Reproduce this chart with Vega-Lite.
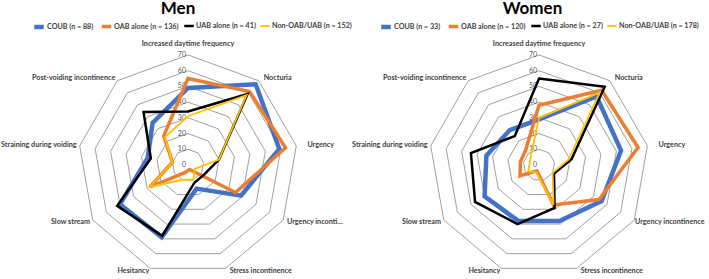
{
  "$schema": "https://vega.github.io/schema/vega-lite/v6.json",
  "padding": 0,
  "spacing": 0,
  "bounds": "flush",
  "background": "white",
  "config": {"view": {"stroke": null}, "font": "Lato", "concat": {"spacing": 0}},
  "datasets": {
    "rings": [
      {"ring": 10, "k": [0,1,2,3,4,5,6,7,8]},
      {"ring": 20, "k": [0,1,2,3,4,5,6,7,8]},
      {"ring": 30, "k": [0,1,2,3,4,5,6,7,8]},
      {"ring": 40, "k": [0,1,2,3,4,5,6,7,8]},
      {"ring": 50, "k": [0,1,2,3,4,5,6,7,8]},
      {"ring": 60, "k": [0,1,2,3,4,5,6,7,8]},
      {"ring": 70, "k": [0,1,2,3,4,5,6,7,8]}
    ],
    "ticks": [{"v": 0},{"v": 10},{"v": 20},{"v": 30},{"v": 40},{"v": 50},{"v": 60},{"v": 70}],
    "axes": [
      {"k": 0, "axis": "Increased daytime frequency"},
      {"k": 1, "axis": "Nocturia"},
      {"k": 2, "axis": "Urgency"},
      {"k": 3, "axis": "Urgency incontinence"},
      {"k": 4, "axis": "Stress incontinence"},
      {"k": 5, "axis": "Hesitancy"},
      {"k": 6, "axis": "Slow stream"},
      {"k": 7, "axis": "Straining during voiding"},
      {"k": 8, "axis": "Post-voiding incontinence"}
    ],
    "main": [
      {"sex": "Men", "series": "COUB (n = 88)", "k": 0, "value": 49},
      {"sex": "Men", "series": "COUB (n = 88)", "k": 1, "value": 67},
      {"sex": "Men", "series": "COUB (n = 88)", "k": 2, "value": 59},
      {"sex": "Men", "series": "COUB (n = 88)", "k": 3, "value": 39},
      {"sex": "Men", "series": "COUB (n = 88)", "k": 4, "value": 16},
      {"sex": "Men", "series": "COUB (n = 88)", "k": 5, "value": 49},
      {"sex": "Men", "series": "COUB (n = 88)", "k": 6, "value": 50},
      {"sex": "Men", "series": "COUB (n = 88)", "k": 7, "value": 26},
      {"sex": "Men", "series": "COUB (n = 88)", "k": 8, "value": 35},
      {"sex": "Men", "series": "OAB alone (n = 136)", "k": 0, "value": 55},
      {"sex": "Men", "series": "OAB alone (n = 136)", "k": 1, "value": 61},
      {"sex": "Men", "series": "OAB alone (n = 136)", "k": 2, "value": 63},
      {"sex": "Men", "series": "OAB alone (n = 136)", "k": 3, "value": 35},
      {"sex": "Men", "series": "OAB alone (n = 136)", "k": 4, "value": 3},
      {"sex": "Men", "series": "OAB alone (n = 136)", "k": 5, "value": 5},
      {"sex": "Men", "series": "OAB alone (n = 136)", "k": 6, "value": 28},
      {"sex": "Men", "series": "OAB alone (n = 136)", "k": 7, "value": 10},
      {"sex": "Men", "series": "OAB alone (n = 136)", "k": 8, "value": 24},
      {"sex": "Men", "series": "UAB alone (n = 41)", "k": 0, "value": 34},
      {"sex": "Men", "series": "UAB alone (n = 41)", "k": 1, "value": 59},
      {"sex": "Men", "series": "UAB alone (n = 41)", "k": 2, "value": 20},
      {"sex": "Men", "series": "UAB alone (n = 41)", "k": 3, "value": 12},
      {"sex": "Men", "series": "UAB alone (n = 41)", "k": 4, "value": 12},
      {"sex": "Men", "series": "UAB alone (n = 41)", "k": 5, "value": 48},
      {"sex": "Men", "series": "UAB alone (n = 41)", "k": 6, "value": 52},
      {"sex": "Men", "series": "UAB alone (n = 41)", "k": 7, "value": 24},
      {"sex": "Men", "series": "UAB alone (n = 41)", "k": 8, "value": 44},
      {"sex": "Men", "series": "Non-OAB/UAB (n = 152)", "k": 0, "value": 31},
      {"sex": "Men", "series": "Non-OAB/UAB (n = 152)", "k": 1, "value": 58},
      {"sex": "Men", "series": "Non-OAB/UAB (n = 152)", "k": 2, "value": 20},
      {"sex": "Men", "series": "Non-OAB/UAB (n = 152)", "k": 3, "value": 5},
      {"sex": "Men", "series": "Non-OAB/UAB (n = 152)", "k": 4, "value": 10},
      {"sex": "Men", "series": "Non-OAB/UAB (n = 152)", "k": 5, "value": 10},
      {"sex": "Men", "series": "Non-OAB/UAB (n = 152)", "k": 6, "value": 28},
      {"sex": "Men", "series": "Non-OAB/UAB (n = 152)", "k": 7, "value": 10},
      {"sex": "Men", "series": "Non-OAB/UAB (n = 152)", "k": 8, "value": 23},
      {"sex": "Women", "series": "COUB (n = 33)", "k": 0, "value": 29},
      {"sex": "Women", "series": "COUB (n = 33)", "k": 1, "value": 57},
      {"sex": "Women", "series": "COUB (n = 33)", "k": 2, "value": 53},
      {"sex": "Women", "series": "COUB (n = 33)", "k": 3, "value": 46},
      {"sex": "Women", "series": "COUB (n = 33)", "k": 4, "value": 38},
      {"sex": "Women", "series": "COUB (n = 33)", "k": 5, "value": 38},
      {"sex": "Women", "series": "COUB (n = 33)", "k": 6, "value": 40},
      {"sex": "Women", "series": "COUB (n = 33)", "k": 7, "value": 34},
      {"sex": "Women", "series": "COUB (n = 33)", "k": 8, "value": 29},
      {"sex": "Women", "series": "OAB alone (n = 120)", "k": 0, "value": 38},
      {"sex": "Women", "series": "OAB alone (n = 120)", "k": 1, "value": 62},
      {"sex": "Women", "series": "OAB alone (n = 120)", "k": 2, "value": 64},
      {"sex": "Women", "series": "OAB alone (n = 120)", "k": 3, "value": 44},
      {"sex": "Women", "series": "OAB alone (n = 120)", "k": 4, "value": 27},
      {"sex": "Women", "series": "OAB alone (n = 120)", "k": 5, "value": 4},
      {"sex": "Women", "series": "OAB alone (n = 120)", "k": 6, "value": 14},
      {"sex": "Women", "series": "OAB alone (n = 120)", "k": 7, "value": 12},
      {"sex": "Women", "series": "OAB alone (n = 120)", "k": 8, "value": 13},
      {"sex": "Women", "series": "UAB alone (n = 27)", "k": 0, "value": 55},
      {"sex": "Women", "series": "UAB alone (n = 27)", "k": 1, "value": 65},
      {"sex": "Women", "series": "UAB alone (n = 27)", "k": 2, "value": 21},
      {"sex": "Women", "series": "UAB alone (n = 27)", "k": 3, "value": 11},
      {"sex": "Women", "series": "UAB alone (n = 27)", "k": 4, "value": 29},
      {"sex": "Women", "series": "UAB alone (n = 27)", "k": 5, "value": 40},
      {"sex": "Women", "series": "UAB alone (n = 27)", "k": 6, "value": 47},
      {"sex": "Women", "series": "UAB alone (n = 27)", "k": 7, "value": 44},
      {"sex": "Women", "series": "UAB alone (n = 27)", "k": 8, "value": 24},
      {"sex": "Women", "series": "Non-OAB/UAB (n = 178)", "k": 0, "value": 30},
      {"sex": "Women", "series": "Non-OAB/UAB (n = 178)", "k": 1, "value": 60},
      {"sex": "Women", "series": "Non-OAB/UAB (n = 178)", "k": 2, "value": 19},
      {"sex": "Women", "series": "Non-OAB/UAB (n = 178)", "k": 3, "value": 10},
      {"sex": "Women", "series": "Non-OAB/UAB (n = 178)", "k": 4, "value": 27},
      {"sex": "Women", "series": "Non-OAB/UAB (n = 178)", "k": 5, "value": 5},
      {"sex": "Women", "series": "Non-OAB/UAB (n = 178)", "k": 6, "value": 8},
      {"sex": "Women", "series": "Non-OAB/UAB (n = 178)", "k": 7, "value": 6},
      {"sex": "Women", "series": "Non-OAB/UAB (n = 178)", "k": 8, "value": 8}
    ]
  },
  "hconcat": [
    {
      "width": 354,
      "height": 243,
      "title": {"text": "Men", "fontSize": 17, "fontWeight": "bold", "color": "#000000", "anchor": "middle", "offset": 2},
      "layer": [
        {
          "data": {"name": "rings"},
          "transform": [
            {"flatten": ["k"]},
            {"calculate": "datum.ring*sin(datum.k*PI*40/180)", "as": "x"},
            {"calculate": "datum.ring*cos(datum.k*PI*40/180)", "as": "y"}
          ],
          "mark": {"type": "line", "interpolate": "linear-closed", "stroke": "#808080", "strokeWidth": 0.75},
          "encoding": {
            "x": {"field": "x", "type": "quantitative", "scale": {"domain": [-119, 106.3], "nice": false, "zero": false}, "axis": null},
            "y": {"field": "y", "type": "quantitative", "scale": {"domain": [-71.9, 82.7], "nice": false, "zero": false}, "axis": null},
            "detail": {"field": "ring", "type": "nominal"},
            "order": {"field": "k", "type": "quantitative"}
          }
        },
        {
          "data": {"name": "ticks"},
          "mark": {"type": "text", "align": "right", "baseline": "middle", "dx": -2, "fontSize": 7, "color": "#595959"},
          "encoding": {
            "x": {"datum": 0, "type": "quantitative"},
            "y": {"field": "v", "type": "quantitative"},
            "text": {"field": "v", "type": "quantitative"}
          }
        },
        {
          "data": {"name": "axes"},
          "transform": [
            {"calculate": "72*sin(datum.k*PI*40/180)", "as": "x"},
            {"calculate": "72*cos(datum.k*PI*40/180)", "as": "y"}
          ],
          "mark": {
            "type": "text", "fontSize": 7.2, "fontWeight": "bold", "color": "#404040", "baseline": "middle",
            "align": {"expr": "datum.k == 0 ? 'center' : (datum.k <= 4 ? 'left' : 'right')"},
            "dx": {"expr": "datum.k == 0 ? 0 : (datum.k == 2 ? 8 : (datum.k == 3 ? 1 : (datum.k <= 4 ? 3 : 0)))"},
            "dy": {"expr": "datum.k == 0 ? -8 : 0"},
            "limit": {"expr": "datum.k == 3 ? 60 : 0"},
            "ellipsis": ""
          },
          "encoding": {
            "x": {"field": "x", "type": "quantitative"},
            "y": {"field": "y", "type": "quantitative"},
            "text": {"field": "axis", "type": "nominal"}
          }
        },
        {
          "data": {"name": "main"},
          "transform": [
            {"filter": "datum.sex == 'Men'"},
            {"calculate": "datum.value*sin(datum.k*PI*40/180)", "as": "x"},
            {"calculate": "datum.value*cos(datum.k*PI*40/180)", "as": "y"}
          ],
          "mark": {"type": "line", "interpolate": "linear-closed"},
          "encoding": {
            "x": {"field": "x", "type": "quantitative"},
            "y": {"field": "y", "type": "quantitative"},
            "color": {
              "field": "series", "type": "nominal",
              "scale": {"domain": ["COUB (n = 88)", "OAB alone (n = 136)", "UAB alone (n = 41)", "Non-OAB/UAB (n = 152)"], "range": ["#4472C4", "#ED7D31", "#000000", "#FFC000"]},
              "legend": {"orient": "none", "legendX": 31, "legendY": -15, "direction": "horizontal", "gridAlign": "none", "title": null, "symbolType": "stroke", "symbolSize": 90, "labelFontSize": 7.2, "labelFontWeight": "bold", "labelColor": "#404040", "columnPadding": 0, "labelOffset": 1, "padding": 0}
            },
            "strokeWidth": {
              "field": "series", "type": "nominal",
              "scale": {"type": "ordinal", "domain": ["COUB (n = 88)", "OAB alone (n = 136)", "UAB alone (n = 41)", "Non-OAB/UAB (n = 152)"], "range": [4.5, 3.5, 2.5, 1.8]},
              "legend": {"orient": "none", "legendX": 31, "legendY": -15, "direction": "horizontal", "gridAlign": "none", "title": null, "symbolType": "stroke", "symbolSize": 90, "labelFontSize": 7.2, "labelFontWeight": "bold", "labelColor": "#404040", "columnPadding": 0, "labelOffset": 1, "padding": 0}
            },
            "detail": {"field": "series", "type": "nominal"},
            "order": {"field": "k", "type": "quantitative"}
          }
        }
      ]
    },
    {
      "width": 355,
      "height": 243,
      "title": {"text": "Women", "fontSize": 17, "fontWeight": "bold", "color": "#000000", "anchor": "middle", "offset": 2},
      "layer": [
        {
          "data": {"name": "rings"},
          "transform": [
            {"flatten": ["k"]},
            {"calculate": "datum.ring*sin(datum.k*PI*40/180)", "as": "x"},
            {"calculate": "datum.ring*cos(datum.k*PI*40/180)", "as": "y"}
          ],
          "mark": {"type": "line", "interpolate": "linear-closed", "stroke": "#808080", "strokeWidth": 0.75},
          "encoding": {
            "x": {"field": "x", "type": "quantitative", "scale": {"domain": [-117.1, 108.8], "nice": false, "zero": false}, "axis": null},
            "y": {"field": "y", "type": "quantitative", "scale": {"domain": [-71.9, 82.7], "nice": false, "zero": false}, "axis": null},
            "detail": {"field": "ring", "type": "nominal"},
            "order": {"field": "k", "type": "quantitative"}
          }
        },
        {
          "data": {"name": "ticks"},
          "mark": {"type": "text", "align": "right", "baseline": "middle", "dx": -2, "fontSize": 7, "color": "#595959"},
          "encoding": {
            "x": {"datum": 0, "type": "quantitative"},
            "y": {"field": "v", "type": "quantitative"},
            "text": {"field": "v", "type": "quantitative"}
          }
        },
        {
          "data": {"name": "axes"},
          "transform": [
            {"calculate": "72*sin(datum.k*PI*40/180)", "as": "x"},
            {"calculate": "72*cos(datum.k*PI*40/180)", "as": "y"}
          ],
          "mark": {
            "type": "text", "fontSize": 7.2, "fontWeight": "bold", "color": "#404040", "baseline": "middle",
            "align": {"expr": "datum.k == 0 ? 'center' : (datum.k <= 4 ? 'left' : 'right')"},
            "dx": {"expr": "datum.k == 0 ? 0 : (datum.k == 2 ? 8 : (datum.k == 3 ? -2 : (datum.k <= 4 ? 3 : 0)))"},
            "dy": {"expr": "datum.k == 0 ? -8 : 0"}
          },
          "encoding": {
            "x": {"field": "x", "type": "quantitative"},
            "y": {"field": "y", "type": "quantitative"},
            "text": {"field": "axis", "type": "nominal"}
          }
        },
        {
          "data": {"name": "main"},
          "transform": [
            {"filter": "datum.sex == 'Women'"},
            {"calculate": "datum.value*sin(datum.k*PI*40/180)", "as": "x"},
            {"calculate": "datum.value*cos(datum.k*PI*40/180)", "as": "y"}
          ],
          "mark": {"type": "line", "interpolate": "linear-closed"},
          "encoding": {
            "x": {"field": "x", "type": "quantitative"},
            "y": {"field": "y", "type": "quantitative"},
            "color": {
              "field": "series", "type": "nominal",
              "scale": {"domain": ["COUB (n = 33)", "OAB alone (n = 120)", "UAB alone (n = 27)", "Non-OAB/UAB (n = 178)"], "range": ["#4472C4", "#ED7D31", "#000000", "#FFC000"]},
              "legend": {"orient": "none", "legendX": 24, "legendY": -15, "direction": "horizontal", "gridAlign": "none", "title": null, "symbolType": "stroke", "symbolSize": 90, "labelFontSize": 7.2, "labelFontWeight": "bold", "labelColor": "#404040", "columnPadding": 0, "labelOffset": 1, "padding": 0}
            },
            "strokeWidth": {
              "field": "series", "type": "nominal",
              "scale": {"type": "ordinal", "domain": ["COUB (n = 33)", "OAB alone (n = 120)", "UAB alone (n = 27)", "Non-OAB/UAB (n = 178)"], "range": [4.5, 3.5, 2.5, 1.8]},
              "legend": {"orient": "none", "legendX": 24, "legendY": -15, "direction": "horizontal", "gridAlign": "none", "title": null, "symbolType": "stroke", "symbolSize": 90, "labelFontSize": 7.2, "labelFontWeight": "bold", "labelColor": "#404040", "columnPadding": 0, "labelOffset": 1, "padding": 0}
            },
            "detail": {"field": "series", "type": "nominal"},
            "order": {"field": "k", "type": "quantitative"}
          }
        }
      ]
    }
  ],
  "resolve": {"scale": {"x": "independent", "y": "independent", "color": "independent", "strokeWidth": "independent"}, "legend": {"color": "independent", "strokeWidth": "independent"}}
}
